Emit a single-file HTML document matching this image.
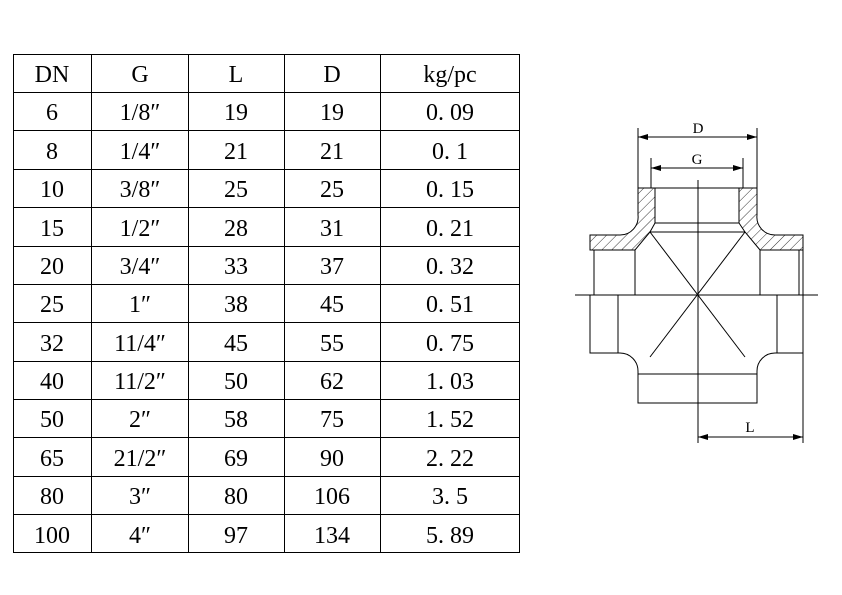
<!DOCTYPE html>
<html><head><style>
body{margin:0;background:#fff;width:842px;height:595px;overflow:hidden;}
svg{position:absolute;left:0;top:0;}
text{font-family:"Liberation Serif",serif;font-size:24px;fill:#000;}
</style></head><body>
<svg width="842" height="595" viewBox="0 0 842 595">
<defs>
<pattern id="h" width="7" height="7" patternUnits="userSpaceOnUse" patternTransform="rotate(45)">
<line x1="0" y1="0" x2="0" y2="7" stroke="#000" stroke-width="0.8"/></pattern>
<marker id="a" viewBox="0 0 10 6" refX="10" refY="3" markerWidth="10" markerHeight="6" orient="auto-start-reverse" markerUnits="userSpaceOnUse"><path d="M0 0L10 3L0 6z"/></marker>
</defs>
<g stroke="#000" stroke-width="1" fill="none">
<rect x="13.5" y="54.5" width="506" height="498"/>
<line x1="91.5" y1="54" x2="91.5" y2="552"/>
<line x1="188.5" y1="54" x2="188.5" y2="552"/>
<line x1="284.5" y1="54" x2="284.5" y2="552"/>
<line x1="380.5" y1="54" x2="380.5" y2="552"/>
<line x1="13" y1="92.5" x2="519" y2="92.5"/><line x1="13" y1="130.5" x2="519" y2="130.5"/>
<line x1="13" y1="169.5" x2="519" y2="169.5"/><line x1="13" y1="207.5" x2="519" y2="207.5"/>
<line x1="13" y1="246.5" x2="519" y2="246.5"/><line x1="13" y1="284.5" x2="519" y2="284.5"/>
<line x1="13" y1="322.5" x2="519" y2="322.5"/><line x1="13" y1="361.5" x2="519" y2="361.5"/>
<line x1="13" y1="399.5" x2="519" y2="399.5"/><line x1="13" y1="437.5" x2="519" y2="437.5"/>
<line x1="13" y1="476.5" x2="519" y2="476.5"/><line x1="13" y1="514.5" x2="519" y2="514.5"/>
</g>
<g text-anchor="middle">
<text x="52" y="82">DN</text><text x="140" y="82">G</text><text x="236" y="82">L</text><text x="332" y="82">D</text><text x="450" y="82">kg/pc</text>
<text x="52" y="120">6</text><text x="140" y="120">1/8″</text><text x="236" y="120">19</text><text x="332" y="120">19</text><text x="450" y="120">0. 09</text>
<text x="52" y="159">8</text><text x="140" y="159">1/4″</text><text x="236" y="159">21</text><text x="332" y="159">21</text><text x="450" y="159">0. 1</text>
<text x="52" y="197">10</text><text x="140" y="197">3/8″</text><text x="236" y="197">25</text><text x="332" y="197">25</text><text x="450" y="197">0. 15</text>
<text x="52" y="236">15</text><text x="140" y="236">1/2″</text><text x="236" y="236">28</text><text x="332" y="236">31</text><text x="450" y="236">0. 21</text>
<text x="52" y="274">20</text><text x="140" y="274">3/4″</text><text x="236" y="274">33</text><text x="332" y="274">37</text><text x="450" y="274">0. 32</text>
<text x="52" y="312">25</text><text x="140" y="312">1″</text><text x="236" y="312">38</text><text x="332" y="312">45</text><text x="450" y="312">0. 51</text>
<text x="52" y="351">32</text><text x="140" y="351">11/4″</text><text x="236" y="351">45</text><text x="332" y="351">55</text><text x="450" y="351">0. 75</text>
<text x="52" y="389">40</text><text x="140" y="389">11/2″</text><text x="236" y="389">50</text><text x="332" y="389">62</text><text x="450" y="389">1. 03</text>
<text x="52" y="427">50</text><text x="140" y="427">2″</text><text x="236" y="427">58</text><text x="332" y="427">75</text><text x="450" y="427">1. 52</text>
<text x="52" y="466">65</text><text x="140" y="466">21/2″</text><text x="236" y="466">69</text><text x="332" y="466">90</text><text x="450" y="466">2. 22</text>
<text x="52" y="504">80</text><text x="140" y="504">3″</text><text x="236" y="504">80</text><text x="332" y="504">106</text><text x="450" y="504">3. 5</text>
<text x="52" y="543">100</text><text x="140" y="543">4″</text><text x="236" y="543">97</text><text x="332" y="543">134</text><text x="450" y="543">5. 89</text>
</g>
<g stroke="#000" stroke-width="1" fill="none">
<path d="M638 188 L655 188 L655 223 L650 232 L635 250 L590 250 L590 235 L620 235 A18 18 0 0 0 638 215 Z" fill="url(#h)"/>
<path d="M757 188 L739 188 L739 223 L745 232 L760 250 L803 250 L803 235 L775 235 A18 18 0 0 1 757 215 Z" fill="url(#h)"/>
<line x1="655" y1="188" x2="739" y2="188"/>
<line x1="655" y1="223" x2="739" y2="223"/>
<line x1="650" y1="232" x2="745" y2="232"/>
<line x1="594" y1="250" x2="594" y2="295"/><line x1="635" y1="250" x2="635" y2="295"/>
<line x1="760" y1="250" x2="760" y2="295"/><line x1="799" y1="250" x2="799" y2="295"/>
<path d="M590 295 L590 353 L620 353 A18 18 0 0 1 638 371 L638 403 L757 403 L757 371 A18 18 0 0 1 775 353 L803 353 L803 295"/>
<line x1="618" y1="295" x2="618" y2="353"/><line x1="777" y1="295" x2="777" y2="353"/>
<line x1="638" y1="374" x2="757" y2="374"/>
<line x1="650" y1="232" x2="745" y2="357"/><line x1="745" y1="232" x2="650" y2="357"/>
<line x1="575" y1="295" x2="818" y2="295"/>
<line x1="698" y1="180" x2="698" y2="443"/>
<line x1="638" y1="128" x2="638" y2="188"/><line x1="757" y1="128" x2="757" y2="188"/>
<line x1="651" y1="158" x2="651" y2="188"/><line x1="743" y1="158" x2="743" y2="188"/>
<line x1="638" y1="137" x2="757" y2="137" marker-start="url(#a)" marker-end="url(#a)"/>
<line x1="651" y1="168" x2="743" y2="168" marker-start="url(#a)" marker-end="url(#a)"/>
<line x1="803" y1="250" x2="803" y2="443"/>
<line x1="698" y1="437" x2="803" y2="437" marker-start="url(#a)" marker-end="url(#a)"/>
</g>
<g text-anchor="middle">
<text x="698" y="133" style="font-size:15px">D</text>
<text x="697" y="164" style="font-size:15px">G</text>
<text x="750" y="432" style="font-size:15px">L</text>
</g>
</svg>
</body></html>
